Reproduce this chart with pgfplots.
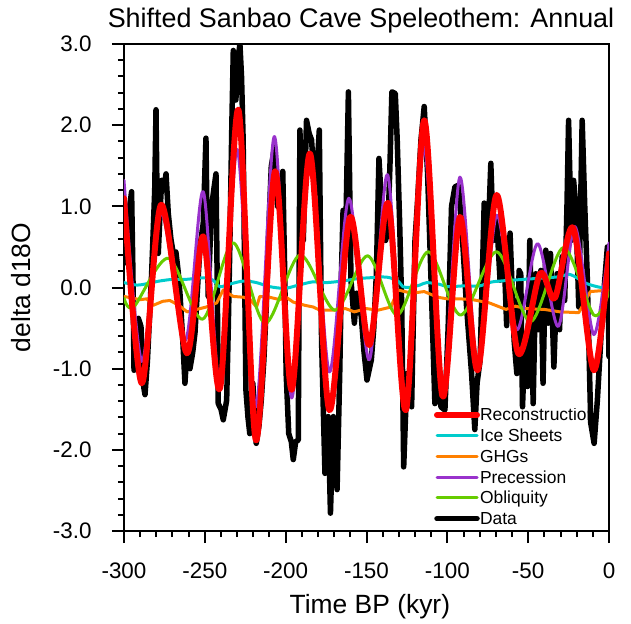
\documentclass[border=0pt]{standalone}
\usepackage{fontspec}
\setmainfont{Liberation Sans}
\usepackage{trimclip}
\usepackage{pgfplots}
\pgfplotsset{compat=1.18}
\definecolor{icecol}{RGB}{0,204,204}
\definecolor{ghgcol}{RGB}{255,128,0}
\definecolor{preccol}{RGB}{153,50,204}
\definecolor{oblcol}{RGB}{102,204,0}

\begin{document}
\begin{tikzpicture}
\useasboundingbox (-124bp,-93bp) rectangle (507bp,531bp);
\begin{axis}[
  at={(0bp,0bp)}, anchor=south west,
  scale only axis, width=485bp, height=487bp,
  xmin=-300, xmax=0, ymin=-3, ymax=3,
  axis line style={line width=2bp},
  xtick={-300,-250,-200,-150,-100,-50,0},
  xticklabels={-300,-250,-200,-150,-100,-50,0},
  ytick={-3,-2,-1,0,1,2,3},
  yticklabels={-3.0,-2.0,-1.0,0.0,1.0,2.0,3.0},
  minor x tick num=4, minor y tick num=4,
  xtick pos=bottom, ytick pos=left,
  tick align=outside,
  major tick length=12bp, minor tick length=6bp,
  tick style={line width=2bp, black},
  tick label style={font=\fontsize{22.5}{27}\selectfont},
  xticklabel style={yshift=-16bp},
  yticklabel style={xshift=-17bp},
  title={Shifted Sanbao Cave Speleothem: Annual},
  title style={at={(0.4887,1.0206)}, anchor=base, inner sep=0pt,
    font=\fontsize{27}{32}\selectfont},
  xlabel={Time BP (kyr)},
  xlabel style={at={(0.507,-0.1684)}, anchor=base, inner sep=0pt,
    font=\fontsize{26.5}{32}\selectfont},
  ylabel={delta d18O},
  ylabel style={at={(-0.1938,0.5)}, rotate=0, anchor=base, inner sep=0pt,
    font=\fontsize{26.5}{32}\selectfont},
  legend style={at={(0.6392,0.2526)}, anchor=north west, draw=none, fill=none,
    inner sep=0pt, outer sep=0pt, font=\fontsize{17.5}{20}\selectfont,
    row sep=4.25bp, cells={anchor=base west},
    nodes={inner sep=0pt, text height=13bp, text depth=3.5bp}},
  legend image code/.code={\draw[#1] (0bp,6bp) -- (40bp,6bp);},
  legend entries={\clipbox{0pt 0pt 7.2bp 0pt}{Reconstruction},Ice Sheets,GHGs,Precession,Obliquity,Data},
  every axis plot/.append style={line join=round, line cap=round},
]
\addlegendimage{red, line width=6bp, line cap=round}
\addlegendimage{icecol, line width=3bp}
\addlegendimage{ghgcol, line width=3bp}
\addlegendimage{preccol, line width=3bp}
\addlegendimage{oblcol, line width=3bp}
\addlegendimage{black, line width=5.5bp, line cap=round}

% Data
\addplot[black, line width=5.5bp, forget plot] coordinates {
(-300,0.30) (-298.4,0.50) (-296.5,1.0) (-295.3,1.18) (-294.5,0.2) (-293.8,-1.02)
(-292.5,-0.7) (-291.1,-0.38) (-289.5,-0.48) (-288,-1.2) (-287,-1.32) (-285.5,-0.9)
(-284.9,-0.65) (-282.9,0.17) (-281,1.2) (-280.2,2.19) (-279.5,1.0) (-278.8,0.42)
(-277.5,1.0) (-276.7,1.32) (-275.5,1.2) (-274,1.40) (-272.6,0.91) (-271,0.6)
(-269.5,0.42) (-267.9,0.44) (-266.5,0.2) (-265.4,-0.07) (-263.5,-0.7) (-262.3,-1.18)
(-261.2,-0.81) (-259.2,-1.0) (-257.5,-0.8) (-256.1,-0.56) (-254.5,0.0) (-253,0.50)
(-251,0.79) (-249.3,1.84) (-248.5,0.6) (-247.9,-0.11) (-246.8,0.5) (-245.8,1.0)
(-244.5,1.2) (-243.1,1.40) (-242.3,0.0) (-241.7,-1.43) (-240,-1.5) (-238.6,-1.63)
(-236.5,-1.39) (-235.5,-0.5) (-234.5,0.55) (-233.3,2.0) (-232.4,2.92) (-231.5,2.5)
(-230.8,2.31) (-229.5,2.8) (-228.3,3.0) (-227.3,2.6) (-226.3,1.82) (-225.4,0.2)
(-224.6,-1.26) (-223.3,-1.6) (-222.2,-1.80) (-220.3,-1.18) (-218.2,-1.92) (-216.5,-1.7)
(-215.1,-1.39) (-213.5,-0.9) (-212,-0.24) (-210.5,0.7) (-208.9,1.49) (-206.9,1.73)
(-205,1.0) (-203.5,1.1) (-201.8,1.43) (-200.6,0.2) (-199.7,-1.06) (-198.1,-1.80)
(-196.5,-1.9) (-195.3,-2.12) (-193.8,-1.9) (-192.2,-1.88) (-191.7,0.0) (-191.2,1.94)
(-189.1,0.58) (-187.1,2.06) (-185.5,1.9) (-184,1.82) (-181.9,1.2) (-180.5,1.5)
(-179.2,1.94) (-177.8,-0.65) (-175.7,-2.29) (-173.7,-1.59) (-172.3,-2.78) (-170.5,-1.59)
(-168.2,-2.49) (-166.5,-1.0) (-165.5,0.17) (-164.5,0.95) (-163,0.50) (-161.2,2.41)
(-159.6,0.09) (-157.5,-0.44) (-156,-0.07) (-153.2,-0.36) (-151.5,-0.8) (-149.7,-1.14)
(-147,-0.89) (-145.5,-0.5) (-143.9,0.17) (-142.3,1.59) (-140.5,0.95) (-138.2,0.58)
(-136.8,0.7) (-135.5,1.5) (-134.3,2.41) (-132.2,2.39) (-131,1.82) (-129.5,0.8)
(-128.2,-0.24) (-127,-2.21) (-124.9,-1.06) (-122.1,-1.47) (-120,0.58) (-118.4,1.07)
(-116.3,1.82) (-114.3,2.23) (-112.2,1.40) (-110.2,0.17) (-107.7,-1.43) (-106,-0.89)
(-104,-1.47) (-101.5,-1.51) (-99.5,-0.5) (-97.4,1.0) (-95.3,1.24) (-93.2,1.26)
(-91.2,0.79) (-88.1,-0.24) (-85,-1.06) (-83,-1.75) (-81.6,-1.18) (-79.7,-0.89)
(-77.2,1.04) (-75.6,0.17) (-73.1,1.53) (-71.5,0.58) (-69.4,0.82) (-67.4,0.09)
(-65.3,0.63) (-63.3,-0.47) (-61.2,0.67) (-58.7,-0.65) (-57,-1.06) (-55.6,0.21)
(-54.6,0.17) (-53.5,-1.47) (-52,-0.65) (-50.4,-1.22) (-49,0.58) (-46.9,-1.43)
(-45.3,0.17) (-43.7,-0.52) (-42.2,0.21) (-40.8,-1.18) (-39.1,0.46) (-37.6,-0.44)
(-36.2,0.42) (-34.1,-0.98) (-32.1,0.17) (-30.6,-0.52) (-29,0.38) (-27.4,-0.16)
(-26,1.0) (-25,2.06) (-23.3,0.58) (-21.9,1.32) (-20.5,1.0) (-18.7,-0.24)
(-16.6,2.06) (-15,1.0) (-13.5,0.17) (-11.3,-1.67) (-9.2,-1.92) (-7.2,-1.39)
(-5.1,-0.65) (-3.1,-0.03) (-1,0.50) (0,-0.85)
};

% Ice Sheets
\addplot[icecol, line width=3bp, smooth, forget plot] coordinates {
(-300,0.06) (-292,0.03) (-285,0.05) (-278,0.08) (-270,0.10) (-262,0.10)
(-250,0.12) (-245,0.09) (-240.6,0.01) (-235,0.04) (-226,0.08) (-218,0.06)
(-209.7,0.01) (-200.4,-0.01) (-192,0.03) (-183,0.07) (-175,0.06) (-165,0.08)
(-155,0.11) (-148,0.12) (-140,0.13) (-135.5,0.12) (-130,0.07) (-127.5,0.01)
(-123,0.0) (-117,0.03) (-112.8,0.06) (-105,0.04) (-99.6,0.01) (-90,0.02)
(-80,0.02) (-72,0.07) (-53,0.10) (-32,0.13) (-24,0.16) (-14,0.05) (-5,0.0) (0,0.0)
};

% GHGs
\addplot[ghgcol, line width=3bp, forget plot] coordinates {
(-300,-0.11) (-295,-0.13) (-290,-0.15) (-286,-0.14) (-282,-0.22) (-276,-0.17)
(-271.6,-0.16) (-266,-0.22) (-261,-0.30) (-255,-0.27) (-249,-0.24) (-242.7,-0.19)
(-238.6,-0.03) (-232.4,-0.11) (-226,-0.12) (-222,-0.15) (-218,-0.24) (-216,-0.11)
(-210,-0.12) (-203.5,-0.15) (-200.4,-0.11) (-195.3,-0.18) (-188,-0.22) (-183,-0.24)
(-178.8,-0.28) (-170.7,-0.28) (-163,-0.26) (-157.5,-0.30) (-150,-0.26) (-143,-0.28)
(-134.8,-0.24) (-130.7,-0.03) (-122,-0.07) (-114.3,-0.05) (-106,-0.12) (-100,-0.14)
(-92,-0.14) (-84.3,-0.15) (-74,-0.19) (-63.7,-0.27) (-58,-0.23) (-51,-0.26)
(-40,-0.27) (-30.4,-0.30) (-18.7,-0.31) (-14,-0.14) (-11.5,-0.05) (-5,-0.04) (0,-0.03)
};

% Precession
\addplot[preccol, line width=3bp, smooth, forget plot] coordinates {
(-300,1.32) (-289,-0.91) (-277,0.92) (-262,-0.65) (-251,1.18) (-240.6,-1.22)
(-230,1.70) (-218.4,-1.47) (-207,1.86) (-196.3,-1.36) (-185,1.6) (-173,-1.04)
(-160.9,1.10) (-148.3,-0.89) (-137,1.39) (-125.6,-1.41) (-114.5,1.73) (-103,-1.25)
(-92.2,1.36) (-81.3,-0.95) (-69.5,0.89) (-57.1,-0.52) (-44.2,0.54) (-31.4,-0.48)
(-21.1,0.75) (-9.4,-0.58) (0,0.55)
};

% Obliquity
\addplot[oblcol, line width=3bp, smooth, forget plot] coordinates {
(-300,-0.13) (-294,-0.24) (-272.6,0.36) (-251.4,-0.39) (-232.4,0.55) (-212.8,-0.44)
(-191.2,0.40) (-169.5,-0.28) (-149.3,0.39) (-131,-0.34) (-111.8,0.44) (-91.8,-0.34)
(-69.5,0.44) (-48.5,-0.42) (-28.3,0.49) (-9.4,-0.34) (0,-0.05)
};

% Reconstruction
\addplot[red, line width=6bp, smooth, forget plot] coordinates {
(-300,1.10) (-289,-1.18) (-277,1.02) (-261.2,-0.81) (-251,0.63) (-240.6,-1.24)
(-229.3,2.19) (-218.4,-1.88) (-206.6,1.43) (-196.3,-1.26) (-185,1.65) (-173,-1.51)
(-160.2,0.87) (-148.3,-0.71) (-136.6,1.04) (-125.6,-1.51) (-114.3,2.06) (-103,-1.34)
(-92.2,0.87) (-81.3,-1.02) (-69.5,1.14) (-56.2,-0.81) (-42.7,0.17) (-33.5,-0.13)
(-22.1,0.73) (-9.4,-1.02) (0,0.42)
};
\end{axis}
\end{tikzpicture}
\end{document}
